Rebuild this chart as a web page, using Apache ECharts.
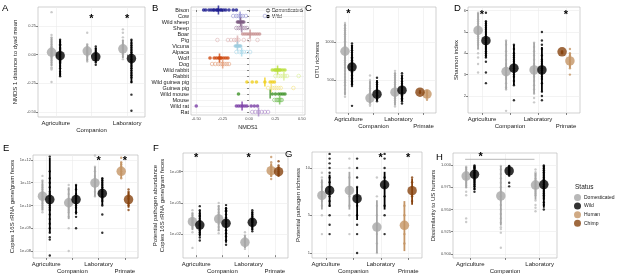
<!DOCTYPE html>
<html>
<head>
<meta charset="utf-8">
<script src="https://cdn.jsdelivr.net/npm/echarts@6/dist/echarts.min.js"></script>
<style>
  html, body { margin: 0; padding: 0; background: #fff; }
  #main { width: 617px; height: 279px; }
</style>
</head>
<body>
<div id="main"></div>
<script>
// ---- categories ----
var cats4 = ['Agriculture', 'Companion', 'Laboratory', 'Primate'];
var cats3 = ['Agriculture', 'Companion', 'Laboratory'];

// ---- A: NMDS 1 distance to dyad mean ----
var aDomPts = [
  [0.37, 0.17, 0.15, 0.13, 0.11, 0.09, 0.07, 0.06, 0.05, 0.04, 0.03, 0.02, 0.01, 0.0, -0.01, -0.02, -0.03, -0.05, -0.07, -0.09, -0.11, -0.12, -0.13, -0.24],
  [0.19, 0.09, 0.07, 0.05, 0.04, 0.03, 0.02, 0.01, 0.0, -0.01, -0.02, -0.04, -0.06],
  [0.22, 0.19, 0.15, 0.12, 0.10, 0.08, 0.07, 0.06, 0.05, 0.04, 0.03, 0.02, 0.01, 0.0, -0.02, -0.04]
];
var aWildPts = [
  [0.13, 0.11, 0.09, 0.08, 0.06, 0.05, 0.04, 0.03, 0.02, 0.01, 0.0, -0.01, -0.02, -0.03, -0.04, -0.05, -0.06, -0.07, -0.08, -0.10, -0.12, -0.15, -0.17, -0.19],
  [0.07, 0.05, 0.03, 0.01, -0.01, -0.03, -0.05, -0.07, -0.09],
  [0.13, 0.10, 0.08, 0.06, 0.04, 0.02, 0.0, -0.02, -0.04, -0.06, -0.08, -0.10, -0.12, -0.14, -0.16, -0.18, -0.20, -0.24, -0.35, -0.49]
];
var aDomMean = [0.02, 0.03, 0.05];
var aWildMean = [-0.01, -0.02, -0.035];
var aDomRange = [[-0.10, 0.15], [-0.06, 0.09], [-0.03, 0.13]];
var aWildRange = [[-0.19, 0.13], [-0.07, 0.06], [-0.25, 0.13]];
var aStars = [[2, 0.33], [3, 0.33]];

// ---- B: NMDS1 per species ----
var bSpecies = ['Bison', 'Cow', 'Wild sheep', 'Sheep', 'Boar', 'Pig', 'Vicuna', 'Alpaca', 'Wolf', 'Dog',
  'Wild rabbit', 'Rabbit', 'Wild guinea pig', 'Guinea pig', 'Wild mouse', 'Mouse', 'Wild rat', 'Rat'];
var bPoints = [
  [-0.43, -0.41, -0.38, -0.36, -0.34, -0.33, -0.31, -0.30, -0.29, -0.27, -0.26, -0.24, -0.22, -0.19, -0.15, -0.12],
  [-0.15, -0.12, -0.10, -0.08, -0.06, -0.03, 0.15],
  [-0.11, -0.10, -0.09, -0.08, -0.07, -0.06, -0.05],
  [-0.12, -0.10, -0.08, -0.06, -0.04, -0.02],
  [-0.06, -0.04, -0.02, 0.0, 0.02, 0.04, 0.06, 0.08, 0.10],
  [-0.30, -0.20, -0.17, -0.14, -0.12, -0.10, -0.05, 0.0, 0.08],
  [-0.13, -0.12, -0.11, -0.10, -0.09, -0.08],
  [-0.12, -0.09, -0.07, -0.05, -0.02, 0.01],
  [-0.37, -0.33, -0.31, -0.29, -0.28, -0.27, -0.26, -0.24, -0.22, -0.20],
  [-0.35, -0.32, -0.29, -0.27, -0.25, -0.23, -0.21, -0.19],
  [0.22, 0.24, 0.25, 0.26, 0.27, 0.28, 0.29, 0.30, 0.32, 0.34],
  [0.25, 0.28, 0.30, 0.32, 0.34, 0.36, 0.47],
  [-0.02, 0.03, 0.07, 0.15, 0.20, 0.22, 0.24],
  [0.18, 0.22, 0.24, 0.26, 0.28, 0.30, 0.42],
  [-0.10, 0.22, 0.25, 0.28, 0.30, 0.32, 0.34],
  [0.24, 0.26, 0.27, 0.28, 0.29, 0.30, 0.31],
  [-0.50, -0.12, -0.10, -0.08, -0.06, -0.04, -0.02, 0.02, 0.05, 0.08],
  [0.03, 0.06, 0.09, 0.12, 0.15, 0.18]
];
var bMeans = [-0.29, -0.085, -0.08, -0.07, 0.01, -0.11, -0.11, -0.07, -0.28, -0.25, 0.27, 0.33, 0.15, 0.21, 0.20, 0.29, -0.066, 0.09];

// ---- C: OTU richness ----
var cDomPts = [
  [1250, 1220, 1180, 1150, 1120, 1100, 1070, 1040, 1010, 990, 960, 940, 910, 880, 850, 820, 790, 760, 730, 700, 660, 620, 580, 540, 500, 470, 430, 380, 330, 280],
  [560, 500, 460, 420, 390, 360, 330, 300, 280, 260, 240, 220, 200, 180, 160],
  [620, 590, 560, 530, 500, 470, 440, 410, 380, 360, 340, 320, 300, 280, 260, 230, 200, 170, 150]
];
var cWildPts = [
  [980, 950, 920, 890, 860, 830, 800, 780, 760, 740, 720, 700, 680, 660, 640, 620, 600, 580, 560, 540, 520, 500, 480, 460, 440, 420, 160],
  [530, 470, 440, 410, 380, 360, 340, 320, 300, 280, 260, 240, 220],
  [590, 560, 520, 480, 450, 420, 400, 380, 360, 340, 320, 300, 280, 260, 240, 220, 190]
];
var cDomMean = [878, 262, 340];
var cWildMean = [670, 314, 366];
var cDomRange = [[300, 1240], [190, 490], [170, 600]];
var cWildRange = [[430, 960], [230, 500], [220, 560]];
var cHumanPts = [360, 340, 320, 300, 270, 240];
var cHumanMean = 315;
var cHumanRange = [270, 360];
var cChimpPts = [355, 340, 330];
var cChimpMean = 340;
var cChimpRange = [330, 355];
var cStars = [[1, 1398]];

// ---- D: Shannon index ----
var dDomPts = [
  [5.9, 5.85, 5.8, 5.7, 5.6, 5.5, 5.4, 5.3, 5.2, 5.1, 5.0, 4.9, 4.8, 4.7, 4.6, 4.5, 4.4, 4.2, 4.0, 3.8, 3.5, 3.1],
  [4.6, 4.4, 4.1, 3.9, 3.7, 3.5, 3.4, 3.3, 3.2, 3.1, 3.0, 2.9, 2.8, 2.6, 2.4, 2.3, 1.3],
  [4.5, 4.3, 4.1, 3.9, 3.7, 3.5, 3.4, 3.3, 3.2, 3.1, 3.0, 2.9, 2.7, 2.5, 2.3, 2.1, 1.9, 1.7]
];
var dWildPts = [
  [5.9, 5.5, 5.4, 5.3, 5.2, 5.1, 5.0, 4.9, 4.8, 4.7, 4.6, 4.5, 4.4, 4.3, 4.2, 4.1, 4.0, 3.9, 3.8, 3.6, 3.1, 2.6],
  [4.4, 4.2, 4.0, 3.9, 3.8, 3.7, 3.6, 3.5, 3.4, 3.3, 3.2, 3.1, 3.0, 2.9, 2.7, 2.5, 1.8],
  [5.0, 4.6, 4.4, 4.2, 3.9, 3.7, 3.6, 3.5, 3.4, 3.3, 3.2, 3.1, 3.0, 2.9, 2.8, 2.6, 2.2, 2.0, 1.8]
];
var dDomMean = [5.07, 3.14, 3.22];
var dWildMean = [4.59, 3.3, 3.22];
var dDomRange = [[4.2, 5.9], [2.3, 4.6], [2.1, 4.5]];
var dWildRange = [[3.8, 5.5], [2.5, 4.4], [2.2, 4.3]];
var dHumanPts = [4.2, 4.0, 3.9, 3.8, 3.7, 3.6, 3.5, 3.4, 3.3, 3.0];
var dHumanMean = 3.64;
var dHumanRange = [3.3, 4.0];
var dChimpPts = [4.1, 4.05, 4.0];
var dChimpMean = 4.07;
var dChimpRange = [4.0, 4.1];
var dStars = [[1, 5.88], [4, 5.88]];

// ---- E: copies 16S rRNA gene/gram feces (log10) ----
var eDomPts = [
  [11.3, 11.1, 10.9, 10.8, 10.7, 10.6, 10.5, 10.4, 10.3, 10.2, 10.1, 10.0, 9.9, 9.8, 9.7],
  [10.9, 10.7, 10.5, 10.3, 10.2, 10.1, 10.0, 9.9, 9.8, 9.7, 9.5, 9.0, 8.0],
  [12.2, 11.7, 11.5, 11.3, 11.2, 11.1, 11.0, 10.9, 10.8, 10.6, 10.4]
];
var eWildPts = [
  [12.15, 11.5, 11.2, 11.0, 10.8, 10.6, 10.5, 10.4, 10.3, 10.2, 10.1, 10.0, 9.9, 9.8, 9.6, 9.4, 9.2, 9.0, 8.8, 8.6, 8.5, 7.8],
  [10.9, 10.7, 10.5, 10.4, 10.3, 10.2, 10.1, 10.0, 9.9, 9.7, 9.5, 9.0],
  [11.2, 11.1, 11.0, 10.9, 10.8, 10.7, 10.6, 10.5, 10.4, 10.3, 10.2, 10.0, 9.6, 8.8]
];
var eDomMean = [10.41, 10.12, 10.99];
var eWildMean = [10.26, 10.26, 10.53];
var eDomRange = [[9.8, 11.1], [9.4, 10.8], [10.4, 11.7]];
var eWildRange = [[8.8, 12.1], [9.6, 10.9], [10.0, 11.2]];
var eHumanPts = [12.1, 11.9, 11.8, 11.7, 11.6, 11.5, 11.4, 11.2];
var eHumanMean = 11.5;
var eHumanRange = [11.2, 11.9];
var eChimpPts = [10.7, 10.6, 10.5, 10.4, 10.3, 10.1, 10.0, 9.8];
var eChimpMean = 10.26;
var eChimpRange = [9.9, 10.6];
var eStars = [[3, 12.05], [4, 12.05]];

// ---- F: potential pathogen abundance (log10) ----
var fDomPts = [
  [4.3, 4.0, 3.8, 3.6, 3.5, 3.4, 3.3, 3.2, 3.1, 3.0, 2.8, 2.6, 2.2, 0.7],
  [5.0, 4.7, 4.4, 4.1, 3.9, 3.8, 3.6, 3.5, 3.4, 3.2, 3.0, 2.7, 2.4, 2.1],
  [2.2, 1.9, 1.7, 1.5, 1.4, 1.3, 1.2, 1.0, 0.8, 0.6]
];
var fWildPts = [
  [4.7, 4.3, 4.0, 3.8, 3.7, 3.5, 3.3, 3.2, 3.0, 2.9, 2.8, 2.6, 2.4, 2.2, 2.0, 1.7, 1.4],
  [4.8, 4.5, 4.3, 4.2, 3.9, 3.6, 3.3, 3.0, 2.7, 2.4, 2.1, 1.8, 1.4, 1.0],
  [4.3, 4.1, 3.9, 3.7, 3.5, 3.4, 3.3, 3.2, 3.1, 2.9, 2.7, 2.5, 2.3]
];
var fDomMean = [3.21, 3.47, 1.23];
var fWildMean = [2.89, 3.05, 3.15];
var fDomRange = [[2.4, 4.1], [2.3, 4.8], [0.7, 1.9]];
var fWildRange = [[1.8, 4.3], [1.2, 4.6], [2.4, 4.2]];
var fHumanPts = [9.4, 8.9, 8.6, 8.4, 8.2, 8.0, 7.8, 7.6, 7.3];
var fHumanMean = 8.1;
var fHumanRange = [7.5, 8.8];
var fChimpPts = [9.0, 8.6, 8.4, 8.2, 8.0, 7.8, 7.6];
var fChimpMean = 8.0;
var fChimpRange = [7.6, 8.5];
var fStars = [[1, 9.5], [3, 9.5]];

// ---- G: potential pathogen richness ----
var gDomPts = [[9.5, 9, 8.5, 8, 7.5, 7, 6.5, 6, 5, 3], [11, 10, 9, 8, 7, 6, 5, 3], [9, 7, 6, 5, 4, 3, 2, 1]];
var gWildPts = [[11.5, 11, 10.5, 10, 9.5, 9, 8.5, 8, 7.5, 7, 6.5, 6, 5, 4, 3], [11, 10, 9, 8, 7, 6, 5, 4, 3, 1], [11.5, 11, 10, 9, 8, 7, 6, 5, 3]];
var gDomMean = [7.1, 7.63, 3.75];
var gWildMean = [7.63, 6.75, 8.23];
var gDomRange = [[5.6, 8.8], [5.6, 9.6], [1, 6.6]];
var gWildRange = [[5.9, 9.3], [4.5, 8], [5.6, 9.6]];
var gHumanPts = [6, 5, 3, 2];
var gHumanMean = 3.93;
var gHumanRange = [1.2, 6.5];
var gChimpPts = [9, 8.5, 8, 7, 6.5];
var gChimpMean = 7.6;
var gChimpRange = [6.1, 8.9];
var gStars = [[3, 11.3], [4, 11.3]];

// ---- H: dissimilarity to US humans ----
var hDomPts = [
  [0.998, 0.997, 0.995, 0.993, 0.991, 0.989, 0.987, 0.985, 0.983, 0.981, 0.979, 0.977, 0.975, 0.970, 0.966, 0.940, 0.936],
  [0.999, 0.995, 0.99, 0.985, 0.98, 0.975, 0.97, 0.965, 0.96, 0.955, 0.95, 0.945, 0.94, 0.935, 0.93, 0.928, 0.924, 0.907],
  [0.995, 0.992, 0.99, 0.988, 0.985, 0.983, 0.98, 0.978, 0.976, 0.974, 0.972, 0.97, 0.968, 0.966, 0.96, 0.955, 0.952, 0.948]
];
var hWildPts = [
  [0.9995, 0.998, 0.997, 0.996, 0.994, 0.992, 0.99, 0.988, 0.986, 0.984, 0.982, 0.98, 0.978, 0.976, 0.973, 0.97],
  [0.999, 0.998, 0.997, 0.996, 0.995, 0.994, 0.993, 0.992, 0.99, 0.988, 0.98, 0.976],
  [0.9995, 0.998, 0.996, 0.994, 0.992, 0.99, 0.988, 0.986, 0.984, 0.982, 0.98, 0.978, 0.976, 0.974, 0.972, 0.97, 0.968, 0.966, 0.964, 0.962, 0.958, 0.955, 0.95]
];
var hDomMean = [0.9876, 0.9652, 0.9775];
var hWildMean = [0.9896, 0.9933, 0.978];
var hDomRange = [[0.974, 0.998], [0.932, 0.999], [0.961, 0.991]];
var hWildRange = [[0.972, 0.9995], [0.988, 0.9995], [0.952, 0.9995]];
var hBracket = [[0.85, 2.85, 1.0064]];
var hStars = [[1.3, 1.011]];

// ---- colours ----
var DOM = '#a6a6a6', DOM_PT = '#bdbdbd', WILD = '#000000', HUMAN = '#c49565', CHIMP = '#87430f';
var bWildCol = ['#1b1b8f', '#7d5c82', '#c99494', '#9dcde0', '#cf4a10', '#b8de3a', '#f0cf1e', '#3f9228', '#7a3fa6'];
var bDomCol = ['#8f8fd0', '#9d7ea0', '#dcb0b0', '#a8d8ea', '#e39a74', '#d8ee8e', '#f4e27a', '#79c25e', '#a884c8'];

var FONT = '"Liberation Sans", Arial, Helvetica, sans-serif';
var GRIDC = '#ebebeb';

var grids = [], xAxes = [], yAxes = [], series = [], graphics = [];
var extraX = [];   // second-row category labels, appended after the main axes

function addGrid(box, xCfg, yCfg) {
  var gi = grids.length;
  grids.push({left: box[0], top: box[1], width: box[2], height: box[3], show: true,
    borderColor: '#b3b3b3', borderWidth: 0.6, backgroundColor: 'rgba(0,0,0,0)',
    containLabel: false, outerBoundsMode: 'none'});
  xCfg.gridIndex = gi; yCfg.gridIndex = gi;
  xAxes.push(xCfg); yAxes.push(yCfg);
  return gi;
}

// category axis on a value scale; labels alternate between two rows (ggplot n.dodge = 2)
function catAxis(cats) {
  var ticks = cats.map(function (c, i) { return i + 1; });
  var row1 = ticks.filter(function (t) { return t % 2 === 1; });
  return {type: 'value', min: 0.5, max: cats.length + 0.5,
    axisLine: {show: false},
    axisTick: {show: true, length: 2, customValues: ticks, lineStyle: {color: '#333', width: 0.6}},
    axisLabel: {customValues: row1, fontSize: 6, color: '#1a1a1a', margin: 3.5, fontFamily: FONT,
      showMinLabel: true, showMaxLabel: true,
      formatter: function (v) { return cats[Math.round(v) - 1]; }},
    splitLine: {show: true, lineStyle: {color: GRIDC, width: 0.6}}};
}
function catAxisRow2(gi, cats) {
  var row2 = cats.map(function (c, i) { return i + 1; }).filter(function (t) { return t % 2 === 0; });
  extraX.push({type: 'value', gridIndex: gi, min: 0.5, max: cats.length + 0.5, position: 'bottom',
    axisLine: {show: false}, axisTick: {show: false}, splitLine: {show: false},
    axisLabel: {customValues: row2, fontSize: 6, color: '#1a1a1a', margin: 10.5, fontFamily: FONT,
      showMinLabel: true, showMaxLabel: true,
      formatter: function (v) { return cats[Math.round(v) - 1]; }}});
}

function valAxis(min, max, ticks, fmt, name, gap) {
  return {type: 'value', min: min, max: max, name: name, nameLocation: 'middle', nameGap: gap,
    nameTextStyle: {fontSize: 6, color: '#1a1a1a', fontFamily: FONT, lineHeight: 7},
    axisLine: {show: false},
    axisTick: {show: true, length: 2, customValues: ticks, lineStyle: {color: '#333', width: 0.6}},
    axisLabel: {customValues: ticks, formatter: fmt, fontSize: 4, color: '#4d4d4d', margin: 2, fontFamily: FONT,
      showMinLabel: true, showMaxLabel: true},
    splitLine: {show: true, lineStyle: {color: GRIDC, width: 0.6}}};
}

function rangeItem(color) {
  return function (params, api) {
    var a = api.coord([api.value(0), api.value(1)]);
    var b = api.coord([api.value(0), api.value(2)]);
    return {type: 'line', shape: {x1: a[0], y1: a[1], x2: b[0], y2: b[1]}, style: {stroke: color, lineWidth: 1.8}};
  };
}

// one status (points + range line + mean dot), first = category number of pts[0]
function addStatus(gi, first, off, pts, mean, range, color, ptColor, name) {
  var ptData = [], meanData = [], rangeData = [];
  pts.forEach(function (vals, i) { vals.forEach(function (v) { ptData.push([first + i + off, v]); }); });
  mean.forEach(function (m, i) { meanData.push([first + i + off, m]); });
  range.forEach(function (r, i) { rangeData.push([first + i + off, r[0], r[1]]); });
  series.push({type: 'scatter', name: name, xAxisIndex: gi, yAxisIndex: gi, data: ptData, symbolSize: 2.4,
    itemStyle: {color: ptColor, opacity: 0.8}, z: 2, silent: true});
  series.push({type: 'custom', name: name, xAxisIndex: gi, yAxisIndex: gi, data: rangeData, encode: {x: 0, y: [1, 2]},
    renderItem: rangeItem(color), z: 3, silent: true});
  series.push({type: 'scatter', name: name, xAxisIndex: gi, yAxisIndex: gi, data: meanData, symbolSize: 9.5,
    itemStyle: {color: color}, z: 4, silent: true});
}

function addStars(gi, stars) {
  series.push({type: 'custom', xAxisIndex: gi, yAxisIndex: gi, data: stars, encode: {x: 0, y: 1}, z: 5, silent: true,
    renderItem: function (params, api) {
      var c = api.coord([api.value(0), api.value(1)]);
      return {type: 'text', x: c[0], y: c[1] + 2, style: {text: '*', fill: '#000', fontSize: 11, fontWeight: 'bold',
        fontFamily: FONT, align: 'center', verticalAlign: 'middle'}};
    }});
}

function panel(gi, cats, off, dom, wild, prim) {
  catAxisRow2(gi, cats);
  addStatus(gi, 1, -off, dom[0], dom[1], dom[2], DOM, DOM_PT, 'Domesticated');
  addStatus(gi, 1, off, wild[0], wild[1], wild[2], WILD, WILD, 'Wild');
  if (prim) {
    // prim: [humanSide, humanPts, humanMean, humanRange, chimpPts, chimpMean, chimpRange]
    var hs = prim[0] * off;
    addStatus(gi, 4, hs, [prim[1]], [prim[2]], [prim[3]], HUMAN, HUMAN, 'Human');
    addStatus(gi, 4, -hs, [prim[4]], [prim[5]], [prim[6]], CHIMP, CHIMP, 'Chimp');
  }
}

function fix2(v) { return v.toFixed(2); }
function expLab(v) { return '1e+' + (v < 10 ? '0' : '') + v; }

// ---- A ----
var gA = addGrid([38, 7, 107, 110], catAxis(cats3),
  valAxis(-0.545, 0.415, [-0.5, -0.25, 0, 0.25], fix2, 'NMDS 1 distance to dyad mean', 19));
panel(gA, cats3, 0.12, [aDomPts, aDomMean, aDomRange], [aWildPts, aWildMean, aWildRange], null);
addStars(gA, aStars);

// ---- B ----
var gB = addGrid([191, 7, 114, 108],
  {type: 'value', min: -0.55, max: 0.53, name: 'NMDS1', nameLocation: 'middle', nameGap: 9,
    nameTextStyle: {fontSize: 5.5, color: '#1a1a1a', fontFamily: FONT},
    axisLine: {show: false},
    axisTick: {show: true, length: 2, customValues: [-0.5, -0.25, 0, 0.25, 0.5], lineStyle: {color: '#333', width: 0.6}},
    axisLabel: {customValues: [-0.5, -0.25, 0, 0.25, 0.5], formatter: fix2, fontSize: 4, color: '#4d4d4d', margin: 2, fontFamily: FONT,
      showMinLabel: true, showMaxLabel: true},
    splitLine: {show: true, lineStyle: {color: GRIDC, width: 0.6}}},
  {type: 'value', min: -0.5, max: bSpecies.length - 0.5, inverse: true,
    axisLine: {show: false},
    axisTick: {show: true, length: 2, customValues: bSpecies.map(function (s, i) { return i; }), lineStyle: {color: '#333', width: 0.6}},
    axisLabel: {customValues: bSpecies.map(function (s, i) { return i; }), formatter: function (v) { return bSpecies[Math.round(v)]; },
      fontSize: 5.5, color: '#1a1a1a', margin: 2, fontFamily: FONT, showMinLabel: true, showMaxLabel: true},
    splitLine: {show: true, lineStyle: {color: GRIDC, width: 0.6}}});
var bPtData = [], bMeanData = [];
bPoints.forEach(function (vals, i) {
  var wild = i % 2 === 0, pair = Math.floor(i / 2);
  var col = wild ? bWildCol[pair] : bDomCol[pair];
  vals.forEach(function (v) {
    bPtData.push({value: [v, i], itemStyle: wild ? {color: col} : {color: 'rgba(255,255,255,0)', borderColor: col, borderWidth: 0.7}});
  });
  bMeanData.push({value: [bMeans[i], i], itemStyle: {color: wild ? bWildCol[pair] : bDomCol[pair]}});
});
series.push({type: 'scatter', xAxisIndex: gB, yAxisIndex: gB, data: bPtData, symbolSize: 3.6, z: 2, silent: true});
series.push({type: 'scatter', xAxisIndex: gB, yAxisIndex: gB, data: bMeanData, symbol: 'rect', symbolSize: [1.6, 9], z: 3, silent: true});
graphics.push(
  {type: 'circle', shape: {cx: 268, cy: 10.5, r: 1.6}, style: {fill: '#fff', stroke: '#000', lineWidth: 0.7}},
  {type: 'text', x: 272, y: 10.5, style: {text: 'Domesticated', fontSize: 5, fill: '#1a1a1a', fontFamily: FONT, verticalAlign: 'middle'}},
  {type: 'circle', shape: {cx: 268, cy: 16.5, r: 1.8}, style: {fill: '#000'}},
  {type: 'text', x: 272, y: 16.5, style: {text: 'Wild', fontSize: 5, fill: '#1a1a1a', fontFamily: FONT, verticalAlign: 'middle'}}
);

// ---- C ----
var gC = addGrid([336, 7, 100, 106], catAxis(cats4),
  valAxis(66, 1460, [500, 1000], function (v) { return String(v); }, 'OTU richness', 10));
panel(gC, cats4, 0.14, [cDomPts, cDomMean, cDomRange], [cWildPts, cWildMean, cWildRange],
  [1, cHumanPts, cHumanMean, cHumanRange, cChimpPts, cChimpMean, cChimpRange]);
addStars(gC, cStars);

// ---- D ----
var gD = addGrid([468, 7, 112, 106], catAxis(cats4),
  valAxis(1.2, 6.17, [2, 3, 4, 5, 6], function (v) { return String(v); }, 'Shannon index', 6));
panel(gD, cats4, 0.14, [dDomPts, dDomMean, dDomRange], [dWildPts, dWildMean, dWildRange],
  [1, dHumanPts, dHumanMean, dHumanRange, dChimpPts, dChimpMean, dChimpRange]);
addStars(gD, dStars);

// ---- E ----
var gE = addGrid([33, 155, 105, 103], catAxis(cats4),
  valAxis(7.69, 12.22, [8, 9, 10, 11, 12], expLab, 'Copies 16S rRNA gene/gram feces', 15));
panel(gE, cats4, 0.14, [eDomPts, eDomMean, eDomRange], [eWildPts, eWildMean, eWildRange],
  [-1, eHumanPts, eHumanMean, eHumanRange, eChimpPts, eChimpMean, eChimpRange]);
addStars(gE, eStars);

// ---- F ----
var gF = addGrid([183, 153, 105, 105], catAxis(cats4),
  valAxis(-0.27, 9.79, [2, 5, 8], expLab, 'Potential pathogen abundance\nCopies 16S rRNA gene/gram feces', 14));
panel(gF, cats4, 0.14, [fDomPts, fDomMean, fDomRange], [fWildPts, fWildMean, fWildRange],
  [-1, fHumanPts, fHumanMean, fHumanRange, fChimpPts, fChimpMean, fChimpRange]);
addStars(gF, fStars);

// ---- G ----
var gG = addGrid([312, 152, 110, 106], catAxis(cats4),
  valAxis(0.47, 11.7, [1, 5, 10], function (v) { return String(v); }, 'Potential pathogen richness', 9));
panel(gG, cats4, 0.14, [gDomPts, gDomMean, gDomRange], [gWildPts, gWildMean, gWildRange],
  [-1, gHumanPts, gHumanMean, gHumanRange, gChimpPts, gChimpMean, gChimpRange]);
addStars(gG, gStars);

// ---- H ----
var gH = addGrid([453, 153, 104, 105], catAxis(cats3),
  valAxis(0.8955, 1.0135, [0.9, 0.925, 0.95, 0.975, 1.0], function (v) { return v.toFixed(3); }, 'Dissimilarity to US humans', 12));
panel(gH, cats3, 0.12, [hDomPts, hDomMean, hDomRange], [hWildPts, hWildMean, hWildRange], null);
series.push({type: 'custom', xAxisIndex: gH, yAxisIndex: gH, data: hBracket, encode: {x: [0, 1], y: 2}, z: 5, silent: true,
  renderItem: function (params, api) {
    var a = api.coord([api.value(0), api.value(2)]);
    var b = api.coord([api.value(1), api.value(2)]);
    return {type: 'line', shape: {x1: a[0], y1: a[1], x2: b[0], y2: b[1]}, style: {stroke: '#a6a6a6', lineWidth: 0.8}};
  }});
addStars(gH, hStars);

// ---- panel letters + legend title ----
[['A', 2, 3], ['B', 152, 3], ['C', 305, 3], ['D', 454, 3], ['E', 3, 143], ['F', 153, 143], ['G', 285, 149], ['H', 436, 152]]
  .forEach(function (l) {
    graphics.push({type: 'text', x: l[1], y: l[2], style: {text: l[0], fontSize: 9.5, fill: '#000', fontFamily: FONT}});
  });
graphics.push({type: 'text', x: 575, y: 184, style: {text: 'Status', fontSize: 6.5, fill: '#1a1a1a', fontFamily: FONT}});

var chart = echarts.init(document.getElementById('main'), null, {renderer: 'canvas'});
chart.setOption({
  animation: false,
  backgroundColor: '#fff',
  grid: grids,
  xAxis: xAxes.concat(extraX),
  yAxis: yAxes,
  series: series,
  graphic: graphics,
  legend: {orient: 'vertical', left: 574, top: 194, itemWidth: 7, itemHeight: 7, itemGap: 1.6, padding: 0,
    icon: 'circle', textStyle: {fontSize: 5, color: '#1a1a1a', fontFamily: FONT, padding: [0, 0, 0, -2]},
    data: [{name: 'Domesticated', itemStyle: {color: DOM}}, {name: 'Wild', itemStyle: {color: WILD}},
      {name: 'Human', itemStyle: {color: HUMAN}}, {name: 'Chimp', itemStyle: {color: CHIMP}}],
    selectedMode: false}
});
</script>
</body>
</html>
